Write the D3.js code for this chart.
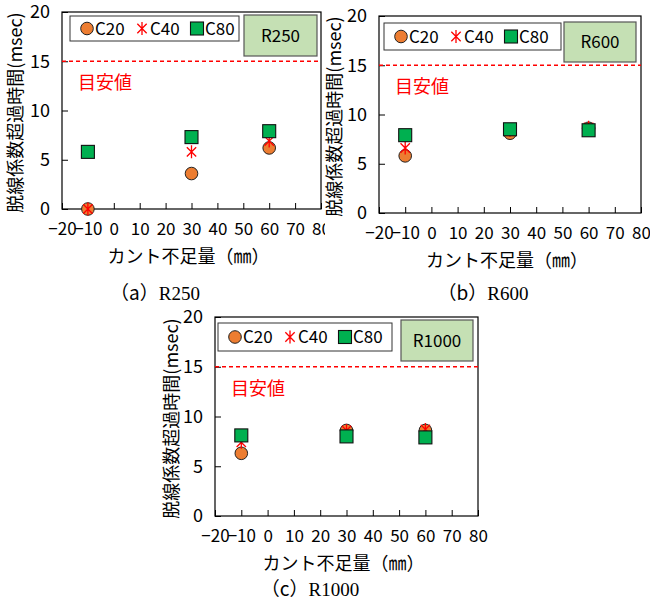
<!DOCTYPE html>
<html>
<head>
<meta charset="utf-8">
<script src="https://cdn.jsdelivr.net/npm/d3@7"></script>
<style>
body { margin: 0; background: #fff; }
svg { display: block; }
</style>
</head>
<body>
<svg id="chart" width="650" height="600"></svg>
<script>
// data
var xValues = [-10, 30, 60];
var xTicks = [-20, -10, 0, 10, 20, 30, 40, 50, 60, 70, 80];
var yTicks = [0, 5, 10, 15, 20];
var seriesNames = ["C20", "C40", "C80"];
var limitValue = 15;

var c20_R250 = [0, 3.6, 6.2];
var c40_R250 = [0, 5.8, 6.9];
var c80_R250 = [5.8, 7.3, 7.9];

var c20_R600 = [5.8, 8.1, 8.6];
var c40_R600 = [6.6, 8.4, 8.7];
var c80_R600 = [7.9, 8.5, 8.4];

var c20_R1000 = [6.3, 8.6, 8.6];
var c40_R1000 = [7.4, 8.6, 8.7];
var c80_R1000 = [8.1, 8.0, 7.9];

var panelNames = ["R250", "R600", "R1000"];
var captions = ["a", "b", "c"];

const svg = d3.select("#chart");
const jp = "'Noto Sans CJK JP', sans-serif";

var panels = [
  {name: panelNames[0], cap: captions[0], data: [c20_R250, c40_R250, c80_R250],
   left: 62, right: 321, top: 12, bottom: 209, clipRight: 325,
   legend: [70, 16, 239, 41], tag: [244, 15, 317, 56], yLabelX: 16, capX: 155, capY: 300},
  {name: panelNames[1], cap: captions[1], data: [c20_R600, c40_R600, c80_R600],
   left: 379, right: 641, top: 16, bottom: 213, clipRight: 650,
   legend: [384, 23, 561, 50], tag: [564, 22, 636, 62], yLabelX: 335, capX: 483, capY: 300},
  {name: panelNames[2], cap: captions[2], data: [c20_R1000, c40_R1000, c80_R1000],
   left: 215, right: 478, top: 317, bottom: 516, clipRight: 650,
   legend: [218, 323, 392, 351], tag: [401, 320, 473, 361], yLabelX: 172, capX: 310, capY: 596}
];

function asterisk(s) {
  var h = s / 2, d = s * 0.36;
  return "M0," + (-h) + "V" + h + "M" + (-d) + "," + (-d) + "L" + d + "," + d +
         "M" + (-d) + "," + d + "L" + d + "," + (-d);
}

function drawMarker(g, type, x, y) {
  if (type === 0) {
    g.append("circle").attr("cx", x).attr("cy", y).attr("r", 6.3)
      .attr("fill", "#ed7d31").attr("stroke", "#222").attr("stroke-width", 1);
  } else if (type === 1) {
    g.append("path").attr("d", asterisk(13)).attr("transform", "translate(" + x + "," + y + ")")
      .attr("fill", "none").attr("stroke", "#ff0000").attr("stroke-width", 1.3);
  } else {
    g.append("rect").attr("x", x - 6.5).attr("y", y - 6.5).attr("width", 13).attr("height", 13)
      .attr("fill", "#00b050").attr("stroke", "#111").attr("stroke-width", 1.1);
  }
}

panels.forEach(function(p, pi) {
  var clipId = "clip" + pi;
  svg.append("clipPath").attr("id", clipId).append("rect")
    .attr("x", p.left - 70).attr("y", p.top - 20).attr("width", p.clipRight - p.left + 70).attr("height", 320);
  var g = svg.append("g").attr("clip-path", "url(#" + clipId + ")");

  var x = d3.scaleLinear().domain([-20, 80]).range([p.left, p.right]);
  var y = d3.scaleLinear().domain([0, 20]).range([p.bottom, p.top]);

  // frame
  g.append("rect").attr("x", p.left).attr("y", p.top)
    .attr("width", p.right - p.left).attr("height", p.bottom - p.top)
    .attr("fill", "#fff").attr("stroke", "#000").attr("stroke-width", 1.2);

  var xAxis = d3.axisBottom(x).tickValues(xTicks).tickSizeInner(-6).tickSizeOuter(0)
    .tickPadding(14).tickFormat(function(d) { return d < 0 ? "\u2212" + (-d) : d; });
  var xg = g.append("g").attr("transform", "translate(0," + p.bottom + ")").call(xAxis);
  xg.select(".domain").remove();
  xg.selectAll("text").style("font-family", jp).style("font-size", "17px").attr("fill", "#000");

  var yAxis = d3.axisLeft(y).tickValues(yTicks).tickSizeInner(-6).tickSizeOuter(0).tickPadding(12);
  var yg = g.append("g").attr("transform", "translate(" + p.left + ",0)").call(yAxis);
  yg.select(".domain").remove();
  yg.selectAll("text").style("font-family", jp).style("font-size", "18px").attr("fill", "#000");

  // limit line
  g.append("line").attr("x1", p.left).attr("x2", p.right)
    .attr("y1", y(limitValue)).attr("y2", y(limitValue))
    .attr("stroke", "#ff0000").attr("stroke-width", 1.6).attr("stroke-dasharray", "4,3");
  g.append("text").attr("x", p.left + 16).attr("y", y(limitValue) + 28)
    .style("font-family", jp).style("font-size", "18px").attr("fill", "#ff0000").text("目安値");

  // points in series order, later series on top
  [0, 1, 2].forEach(function(si) {
    p.data[si].forEach(function(v, i) {
      drawMarker(g, si, x(xValues[i]), y(v));
    });
  });

  // legend
  var L = p.legend;
  g.append("rect").attr("x", L[0]).attr("y", L[1]).attr("width", L[2] - L[0]).attr("height", L[3] - L[1])
    .attr("fill", "#fff").attr("stroke", "#333").attr("stroke-width", 1);
  var lx = d3.scaleLinear().domain([0, 2]).range([L[0] + 17, L[0] + 127]);
  var ly = (L[1] + L[3]) / 2;
  seriesNames.forEach(function(n, si) {
    drawMarker(g, si, lx(si), ly);
    g.append("text").attr("x", lx(si) + 8).attr("y", ly).attr("dy", "0.36em")
      .style("font-family", jp).style("font-size", "17px").attr("fill", "#000").text(n);
  });

  // radius tag
  var T = p.tag;
  g.append("rect").attr("x", T[0]).attr("y", T[1]).attr("width", T[2] - T[0]).attr("height", T[3] - T[1])
    .attr("fill", "#c5e0b4").attr("stroke", "#555").attr("stroke-width", 1.2);
  g.append("text").attr("x", (T[0] + T[2]) / 2).attr("y", (T[1] + T[3]) / 2).attr("dy", "0.36em")
    .attr("text-anchor", "middle").style("font-family", jp).style("font-size", "17px")
    .attr("fill", "#000").text(p.name);

  // axis titles
  svg.append("text")
    .attr("transform", "translate(" + p.yLabelX + "," + ((p.top + p.bottom) / 2 + 2) + ") rotate(-90)")
    .attr("text-anchor", "middle").attr("dy", "0.36em")
    .style("font-family", jp).style("font-size", "18px").attr("fill", "#000")
    .text("脱線係数超過時間(msec)");
  svg.append("text").attr("x", (p.left + p.right) / 2 - 3).attr("y", p.bottom + 54)
    .attr("text-anchor", "middle").style("font-family", jp).style("font-size", "18px")
    .attr("fill", "#000").text("カント不足量（㎜）");

  // caption
  var cap = svg.append("text").attr("x", p.capX).attr("y", p.capY).attr("text-anchor", "middle")
    .attr("fill", "#000").style("font-size", "19px");
  cap.append("tspan").style("font-family", jp).text("（" + p.cap + "）");
  cap.append("tspan").style("font-family", "'Liberation Serif', serif").text(p.name);
});
</script>
</body>
</html>
